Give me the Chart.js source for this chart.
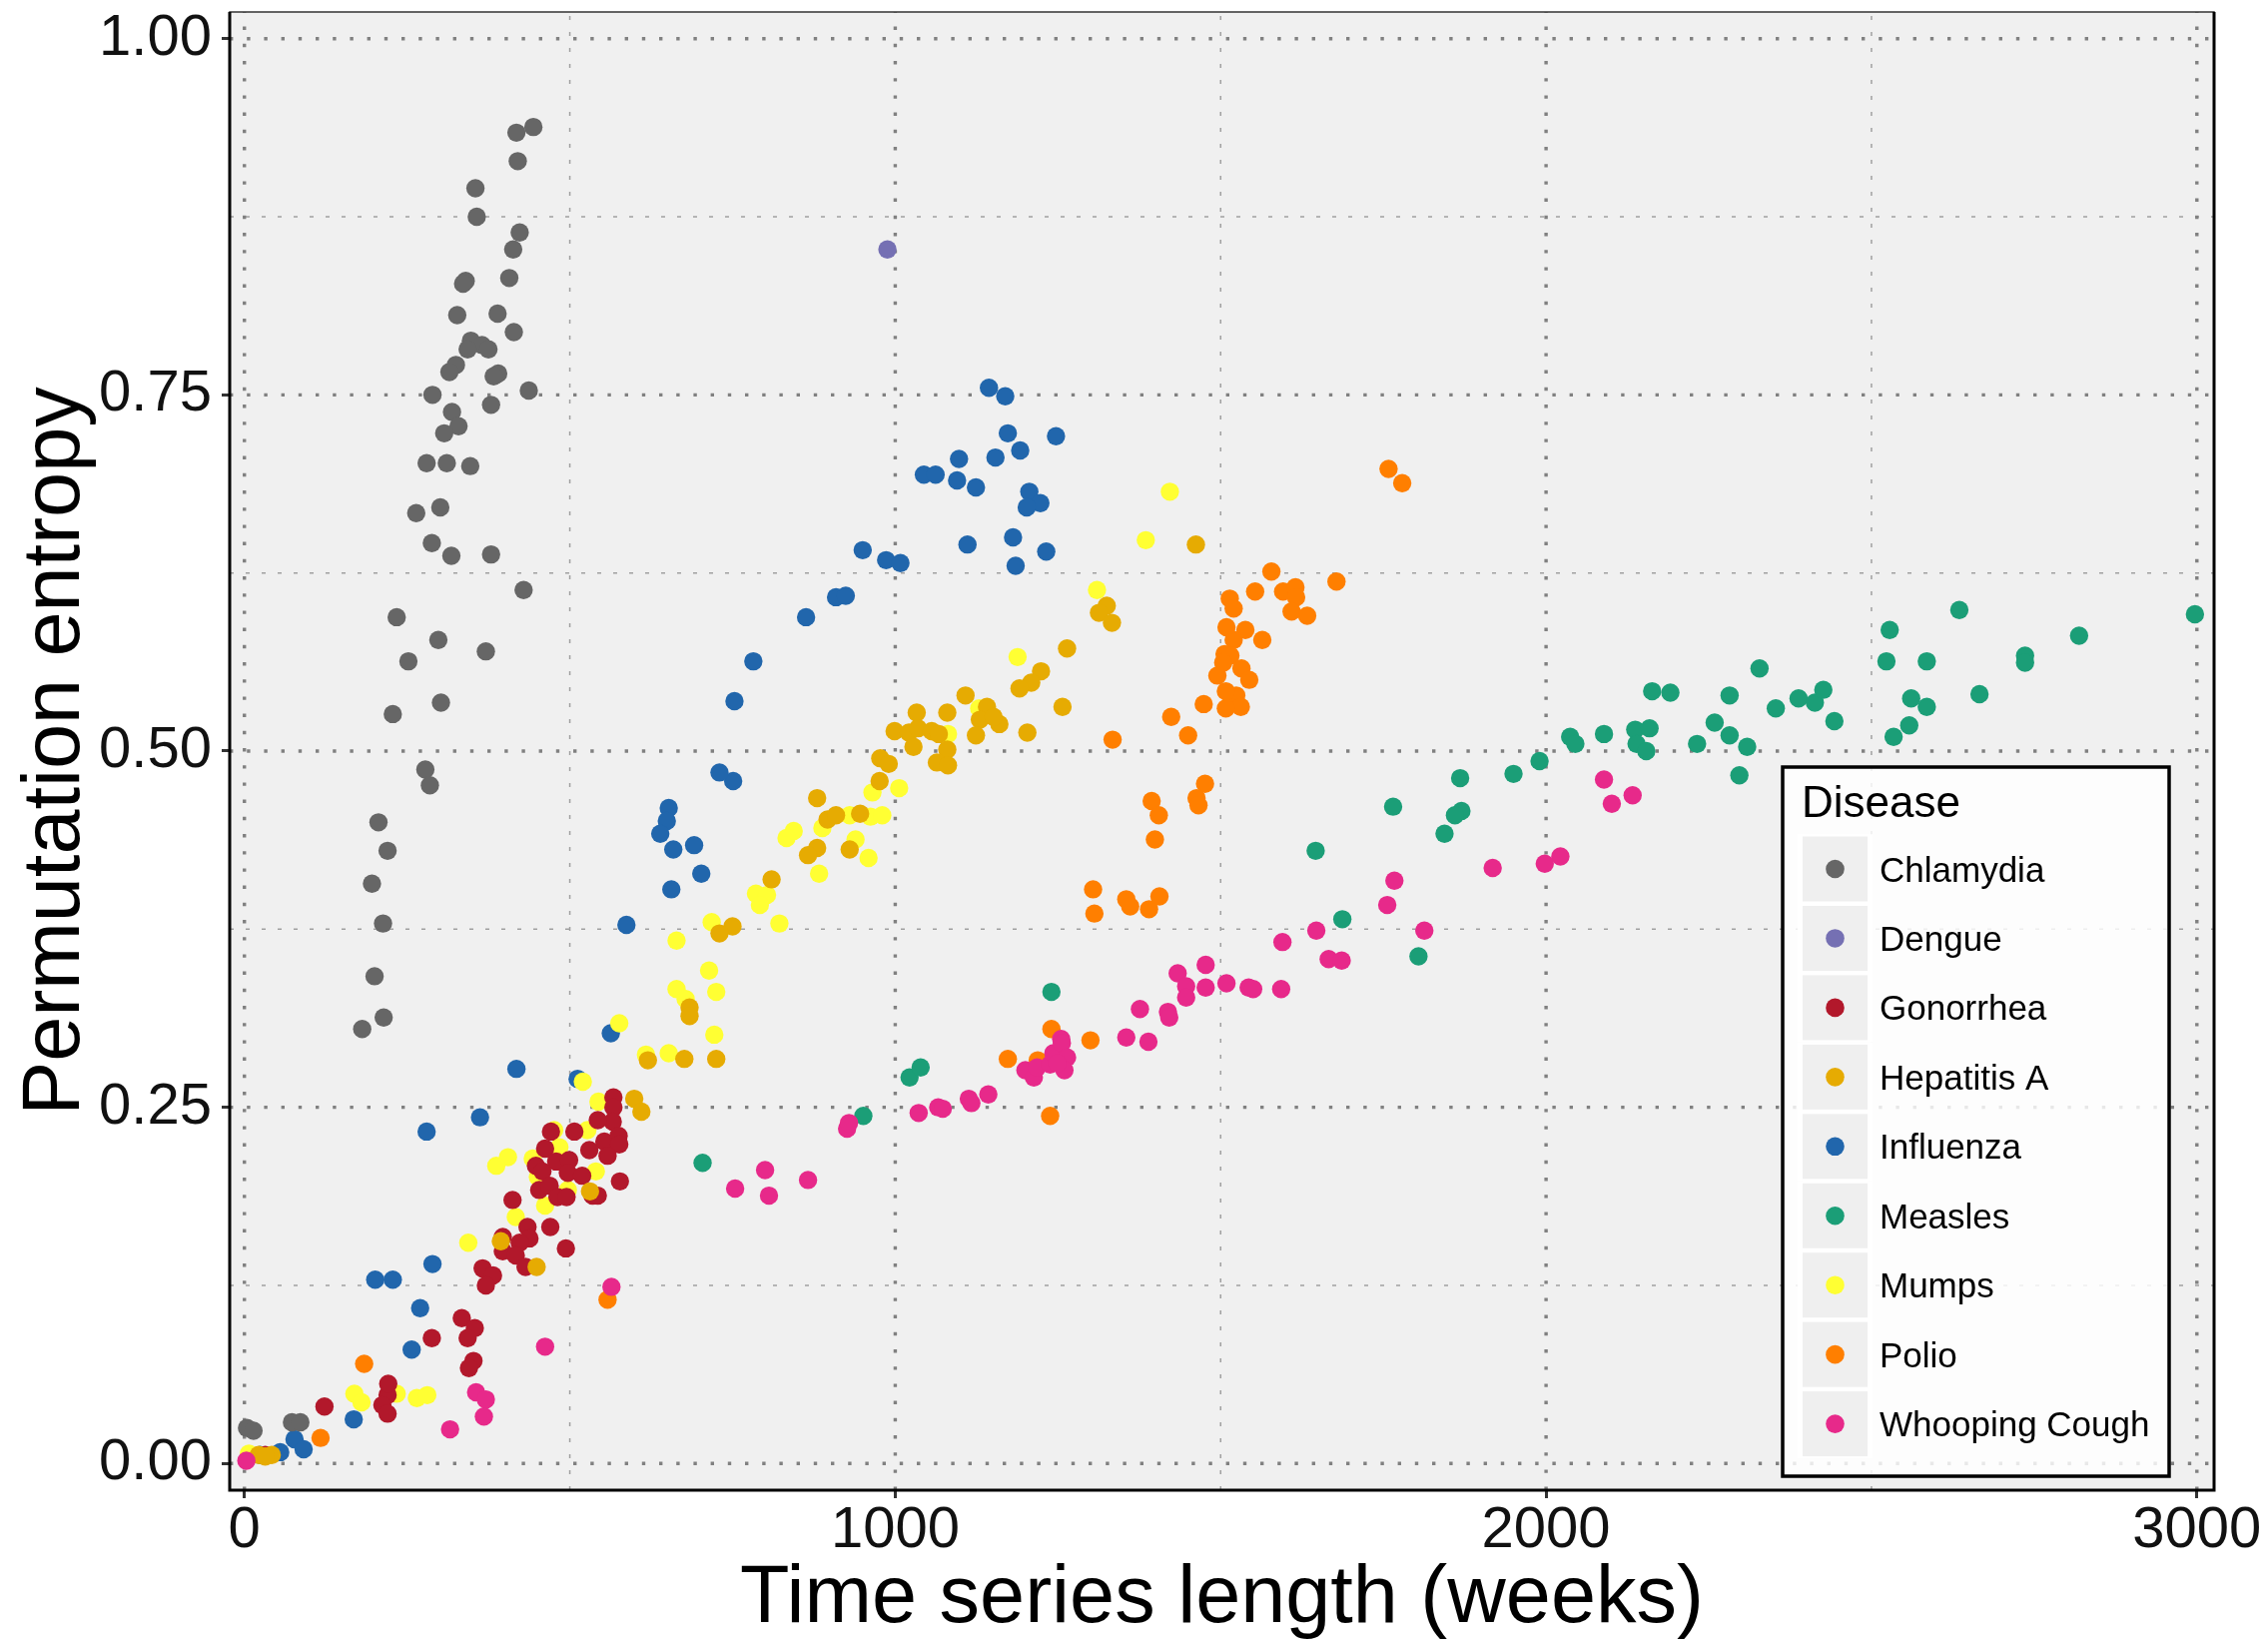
<!DOCTYPE html>
<html>
<head>
<meta charset="utf-8">
<title>Permutation entropy vs time series length</title>
<script src="https://cdn.jsdelivr.net/npm/chart.js@4.4.1/dist/chart.umd.min.js"></script>
<style>
  html, body { margin: 0; padding: 0; background: #ffffff; }
  #wrap { width: 2271px; height: 1645px; position: relative; }
</style>
</head>
<body>
<div id="wrap"><canvas id="entropyChart"></canvas></div>
<script>
// ---- data ----
const diseases = ['Chlamydia', 'Dengue', 'Gonorrhea', 'Hepatitis A', 'Influenza', 'Measles', 'Mumps', 'Polio', 'Whooping Cough'];
const diseaseColors = ['#666666', '#7570B3', '#B2182B', '#E6AB02', '#2166AC', '#1B9E77', '#FFFF33', '#FF7F00', '#E7298A'];
// higher number = drawn earlier (underneath)
const drawOrder = [4, 3, 2, 1, 8, 5, 7, 6, 0];

const chlamydia = [[444,0.938],[418,0.934],[420,0.914],[355,0.895],[357,0.875],[423,0.864],[413,0.852],[407,0.832],[340,0.830],[336,0.828],[327,0.806],[389,0.807],[414,0.794],[348,0.788],[365,0.785],[375,0.782],[343,0.782],[325,0.771],[315,0.766],[390,0.765],[383,0.763],[437,0.753],[289,0.750],[379,0.743],[319,0.738],[329,0.728],[307,0.723],[280,0.702],[311,0.702],[347,0.700],[264,0.667],[301,0.671],[288,0.646],[318,0.637],[379,0.638],[429,0.613],[234,0.594],[298,0.578],[371,0.570],[252,0.563],[302,0.534],[228,0.526],[278,0.487],[285,0.476],[206,0.450],[220,0.430],[196,0.407],[213,0.379],[200,0.342],[214,0.313],[181,0.305],[4,0.025],[14,0.023],[73,0.029],[86,0.029]];
const dengue = [[988,0.852]];
const gonorrhea = [[567,0.257],[567,0.250],[566,0.240],[543,0.241],[507,0.233],[471,0.233],[553,0.226],[575,0.230],[576,0.224],[558,0.216],[530,0.220],[462,0.221],[448,0.209],[479,0.212],[499,0.213],[497,0.204],[519,0.202],[458,0.205],[577,0.198],[453,0.192],[469,0.195],[481,0.187],[495,0.187],[535,0.188],[543,0.188],[412,0.185],[435,0.166],[470,0.166],[397,0.159],[438,0.158],[423,0.155],[397,0.149],[417,0.146],[494,0.151],[432,0.138],[366,0.137],[382,0.132],[371,0.125],[334,0.102],[354,0.095],[343,0.088],[352,0.072],[345,0.067],[288,0.088],[123,0.040],[220,0.048],[212,0.041],[220,0.035],[221,0.056],[32,0.006]];
const hepatitisA = [[1462,0.645],[1325,0.602],[1313,0.597],[1333,0.590],[1264,0.572],[1224,0.556],[1209,0.548],[1191,0.544],[1257,0.531],[1108,0.539],[1141,0.531],[1130,0.522],[1160,0.519],[1151,0.524],[1124,0.511],[1203,0.513],[1080,0.527],[1033,0.527],[999,0.514],[1021,0.513],[1035,0.516],[1028,0.503],[1056,0.514],[1067,0.512],[1080,0.501],[1064,0.492],[1081,0.490],[977,0.495],[990,0.491],[976,0.479],[880,0.467],[896,0.452],[909,0.455],[946,0.456],[880,0.432],[866,0.427],[930,0.431],[810,0.410],[750,0.377],[730,0.372],[684,0.320],[684,0.314],[620,0.283],[676,0.284],[725,0.284],[599,0.256],[610,0.247],[531,0.191],[394,0.156],[449,0.138],[22,0.006],[42,0.006],[32,0.005]];
const influenza = [[1144,0.755],[1169,0.749],[1173,0.723],[1247,0.721],[1192,0.711],[1098,0.705],[1154,0.706],[1044,0.694],[1062,0.694],[1095,0.690],[1124,0.685],[1206,0.682],[1223,0.674],[1202,0.671],[950,0.641],[986,0.634],[1008,0.632],[1111,0.645],[1181,0.650],[1185,0.630],[1232,0.640],[909,0.608],[924,0.609],[863,0.594],[782,0.563],[753,0.535],[751,0.479],[730,0.485],[652,0.460],[649,0.451],[639,0.442],[659,0.431],[691,0.434],[702,0.414],[656,0.403],[587,0.378],[418,0.277],[563,0.302],[512,0.270],[280,0.233],[362,0.243],[289,0.140],[201,0.129],[228,0.129],[270,0.109],[257,0.080],[168,0.031],[77,0.017],[91,0.010],[55,0.008],[24,0.006]];
const measles = [[2163,0.542],[2191,0.541],[2282,0.539],[2259,0.520],[2282,0.511],[2232,0.505],[2037,0.510],[2045,0.505],[2089,0.512],[2137,0.515],[2159,0.516],[2139,0.505],[2154,0.500],[1990,0.493],[1950,0.484],[1868,0.481],[1765,0.461],[1870,0.458],[1860,0.455],[1844,0.442],[1646,0.430],[1687,0.382],[1804,0.356],[2309,0.503],[2297,0.483],[2328,0.558],[2353,0.530],[2388,0.537],[2413,0.534],[2426,0.543],[2443,0.521],[2528,0.585],[2635,0.599],[2523,0.563],[2585,0.563],[2561,0.537],[2585,0.531],[2558,0.518],[2534,0.510],[2666,0.540],[2736,0.567],[2736,0.562],[2819,0.581],[2997,0.596],[1240,0.331],[951,0.244],[1022,0.271],[1039,0.278],[704,0.211]];
const mumps = [[1422,0.682],[1385,0.648],[1310,0.613],[1188,0.566],[1129,0.530],[1081,0.512],[965,0.471],[1006,0.474],[930,0.455],[962,0.454],[980,0.455],[888,0.446],[844,0.444],[833,0.439],[939,0.438],[959,0.425],[883,0.414],[786,0.400],[803,0.399],[792,0.392],[822,0.379],[718,0.380],[664,0.367],[714,0.346],[664,0.333],[725,0.331],[678,0.326],[576,0.309],[722,0.301],[617,0.287],[652,0.288],[520,0.268],[544,0.254],[527,0.234],[476,0.234],[484,0.222],[405,0.215],[387,0.209],[443,0.214],[451,0.201],[540,0.205],[497,0.192],[462,0.181],[417,0.173],[344,0.155],[169,0.049],[180,0.043],[234,0.049],[265,0.046],[281,0.048],[7,0.007]];
const polio = [[1514,0.607],[1553,0.612],[1578,0.626],[1596,0.612],[1615,0.615],[1616,0.608],[1609,0.598],[1633,0.595],[1678,0.619],[1509,0.587],[1538,0.585],[1520,0.578],[1564,0.578],[1506,0.568],[1515,0.567],[1504,0.562],[1532,0.558],[1544,0.550],[1495,0.553],[1524,0.539],[1508,0.542],[1531,0.531],[1508,0.530],[1520,0.600],[1474,0.533],[1424,0.524],[1450,0.511],[1334,0.508],[1476,0.477],[1463,0.467],[1466,0.462],[1394,0.465],[1405,0.455],[1399,0.438],[1304,0.403],[1306,0.386],[1355,0.396],[1361,0.391],[1390,0.389],[1406,0.398],[1758,0.698],[1779,0.688],[1173,0.284],[1219,0.283],[1240,0.305],[1300,0.297],[1238,0.244],[558,0.115],[184,0.070],[117,0.018]];
const whoopingCough = [[754,0.193],[800,0.206],[806,0.188],[866,0.199],[926,0.235],[929,0.239],[1036,0.246],[1066,0.250],[1073,0.249],[1113,0.256],[1117,0.253],[1143,0.259],[1200,0.276],[1213,0.271],[1218,0.278],[1238,0.280],[1243,0.288],[1255,0.298],[1256,0.295],[1264,0.285],[1260,0.276],[1249,0.281],[1355,0.299],[1389,0.296],[1434,0.344],[1477,0.350],[1447,0.335],[1477,0.334],[1447,0.327],[1509,0.337],[1376,0.319],[1419,0.317],[1421,0.313],[2089,0.480],[2101,0.463],[2133,0.469],[2022,0.426],[1998,0.421],[1918,0.418],[1767,0.409],[1756,0.392],[1813,0.374],[1647,0.374],[1595,0.366],[1666,0.354],[1686,0.353],[1543,0.334],[1550,0.333],[1593,0.333],[564,0.124],[462,0.082],[356,0.050],[371,0.045],[368,0.033],[316,0.024],[3,0.002]];

const seriesValues = [chlamydia, dengue, gonorrhea, hepatitisA, influenza, measles, mumps, polio, whoopingCough];

const xTickValues = [0, 1000, 2000, 3000];
const xTickLabels = ['0', '1000', '2000', '3000'];
const yTickValues = [0, 0.25, 0.5, 0.75, 1];
const yTickLabels = ['0.00', '0.25', '0.50', '0.75', '1.00'];
const xMinorGrid = [500, 1500, 2500];
const yMinorGrid = [0.125, 0.375, 0.625, 0.875];
const xTitle = 'Time series length (weeks)';
const yTitle = 'Permutation entropy';
const legendTitle = 'Disease';

const FONT = "'Liberation Sans', Arial, Helvetica, sans-serif";

// panel background, dotted grid, panel border
const panelPlugin = {
    id: 'panel',
    beforeDraw(chart) {
        const { ctx, chartArea: a } = chart;
        ctx.save();
        ctx.fillStyle = '#f0f0f0';
        ctx.fillRect(a.left, a.top, a.right - a.left, a.bottom - a.top);
        ctx.restore();
    },
    beforeDatasetsDraw(chart) {
        const { ctx, chartArea: a, scales } = chart;
        ctx.save();
        ctx.beginPath();
        ctx.rect(a.left, a.top, a.right - a.left, a.bottom - a.top);
        ctx.clip();

        function hLine(v, width, dash, color) {
            const y = scales.y.getPixelForValue(v);
            ctx.lineWidth = width;
            ctx.strokeStyle = color;
            ctx.setLineDash(dash);
            ctx.beginPath();
            ctx.moveTo(a.left, y);
            ctx.lineTo(a.right, y);
            ctx.stroke();
        }
        function vLine(v, width, dash, color) {
            const x = scales.x.getPixelForValue(v);
            ctx.lineWidth = width;
            ctx.strokeStyle = color;
            ctx.setLineDash(dash);
            ctx.beginPath();
            ctx.moveTo(x, a.bottom);
            ctx.lineTo(x, a.top);
            ctx.stroke();
        }
        // minor lines: fine dashes
        yMinorGrid.forEach(v => hLine(v, 1.5, [4, 12], '#a0a0a0'));
        xMinorGrid.forEach(v => vLine(v, 1.5, [4, 12], '#a0a0a0'));
        // major lines: square dots
        yTickValues.forEach(v => hLine(v, 3.4, [3.4, 13.8], '#808080'));
        xTickValues.forEach(v => vLine(v, 3.4, [3.4, 13.8], '#808080'));
        ctx.restore();
    },
    afterDatasetsDraw(chart) {
        const { ctx, chartArea: a } = chart;
        ctx.save();
        ctx.setLineDash([]);
        ctx.strokeStyle = '#333333';
        ctx.lineWidth = 1.5;
        ctx.strokeRect(a.left, a.top, a.right - a.left, a.bottom - a.top);
        ctx.strokeStyle = '#000000';
        ctx.lineWidth = 3;
        ctx.beginPath();
        ctx.moveTo(a.left, a.top);
        ctx.lineTo(a.left, a.bottom);
        ctx.lineTo(a.right, a.bottom);
        ctx.lineTo(a.right, a.top);
        ctx.stroke();
        ctx.restore();
    }
};

// ggplot-style legend box inside the panel
const legendPlugin = {
    id: 'diseaseLegend',
    afterDraw(chart) {
        const ctx = chart.ctx;
        const box = { left: 1785, top: 768, right: 2172, bottom: 1478 };
        const rowH = 69.45;
        const firstRow = 870;
        ctx.save();
        ctx.fillStyle = 'rgba(255,255,255,0.82)';
        ctx.fillRect(box.left, box.top, box.right - box.left, box.bottom - box.top);
        ctx.strokeStyle = '#000000';
        ctx.lineWidth = 3.5;
        ctx.strokeRect(box.left, box.top, box.right - box.left, box.bottom - box.top);

        ctx.fillStyle = '#000000';
        ctx.font = '44px ' + FONT;
        ctx.textAlign = 'left';
        ctx.textBaseline = 'alphabetic';
        ctx.fillText(legendTitle, 1804, 818);

        chart.data.datasets.forEach((ds, i) => {
            const cy = firstRow + i * rowH;
            ctx.fillStyle = '#ffffff';
            ctx.fillRect(1800, cy - rowH / 2, 75, rowH);
            ctx.fillStyle = '#efefef';
            ctx.fillRect(1805, cy - 32.5, 65, 65);
            ctx.fillStyle = ds.backgroundColor;
            ctx.beginPath();
            ctx.arc(1837.5, cy, 9.3, 0, Math.PI * 2);
            ctx.fill();
            ctx.fillStyle = '#000000';
            ctx.font = '35px ' + FONT;
            ctx.fillText(ds.label, 1882, cy + 12.5);
        });
        ctx.restore();
    }
};

const datasets = diseases.map((name, i) => ({
    label: name,
    data: seriesValues[i].map(p => ({ x: p[0], y: p[1] })),
    backgroundColor: diseaseColors[i],
    borderColor: diseaseColors[i],
    borderWidth: 0,
    pointRadius: 9.2,
    pointHoverRadius: 9.2,
    order: drawOrder[i]
}));

const ctx = document.getElementById('entropyChart').getContext('2d');
new Chart(ctx, {
    type: 'scatter',
    data: { datasets: datasets },
    plugins: [panelPlugin, legendPlugin],
    options: {
        responsive: true,
        maintainAspectRatio: false,
        animation: false,
        events: [],
        layout: { padding: { top: 12, right: 54, bottom: 0, left: 0 } },
        plugins: {
            legend: { display: false },
            tooltip: { enabled: false }
        },
        scales: {
            x: {
                type: 'linear',
                min: -22.6,
                max: 3026.4,
                afterBuildTicks: axis => { axis.ticks = xTickValues.map(v => ({ value: v })); },
                afterFit: axis => { axis.height = 153; axis.paddingLeft = 0; axis.paddingRight = 0; },
                border: { display: false },
                grid: { drawOnChartArea: false, drawTicks: true, tickLength: 8, tickWidth: 3, tickColor: '#333333', color: 'rgba(0,0,0,0)' },
                ticks: {
                    color: '#111111',
                    autoSkip: false,
                    maxRotation: 0,
                    padding: 0,
                    font: { family: FONT, size: 58, lineHeight: 1.15 },
                    callback: (v, i) => xTickLabels[i]
                },
                title: {
                    display: true,
                    text: xTitle,
                    color: '#000000',
                    font: { family: FONT, size: 81, lineHeight: 1.0 },
                    padding: { top: 0, bottom: 3 }
                }
            },
            y: {
                type: 'linear',
                min: -0.0187,
                max: 1.0187,
                afterBuildTicks: axis => { axis.ticks = yTickValues.map(v => ({ value: v })); },
                afterFit: axis => { axis.width = 230; axis.paddingTop = 0; axis.paddingBottom = 0; },
                border: { display: false },
                grid: { drawOnChartArea: false, drawTicks: true, tickLength: 8, tickWidth: 3, tickColor: '#333333', color: 'rgba(0,0,0,0)' },
                ticks: {
                    color: '#111111',
                    autoSkip: false,
                    padding: 10,
                    font: { family: FONT, size: 58, lineHeight: 1.2 },
                    callback: (v, i) => yTickLabels[i]
                },
                title: {
                    display: true,
                    text: yTitle,
                    color: '#000000',
                    font: { family: FONT, size: 81, lineHeight: 1.0 },
                    padding: { top: 16, bottom: 0 }
                }
            }
        }
    }
});
</script>
</body>
</html>
